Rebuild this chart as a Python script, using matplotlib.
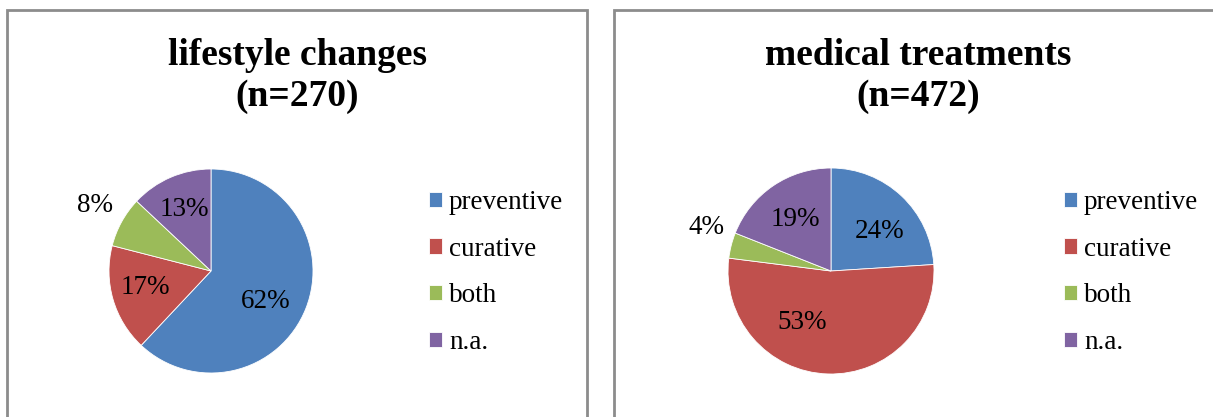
import matplotlib.pyplot as plt
from matplotlib.patches import Rectangle

plt.rcParams['font.family'] = ['Liberation Serif', 'DejaVu Serif']

categories = ['preventive', 'curative', 'both', 'n.a.']
colors = ['#4F81BD', '#C0504D', '#9BBB59', '#8064A2']

lifestyle_title = 'lifestyle changes\n(n=270)'
lifestyle_pct = [62, 17, 8, 13]
# label positions, in units of the pie radius
lifestyle_lbl = [(0.54, -0.30), (-0.64, -0.16), (-1.14, 0.64), (-0.26, 0.60)]

medical_title = 'medical treatments\n(n=472)'
medical_pct = [24, 53, 4, 19]
medical_lbl = [(0.47, 0.38), (-0.28, -0.50), (-1.21, 0.42), (-0.35, 0.50)]

W, H = 1213, 417
fig = plt.figure(figsize=(W / 100, H / 100), dpi=100)

# panel frames
for x0, x1 in [(7, 587), (614, 1230)]:
    fig.patches.append(Rectangle((x0 / W, -0.1), (x1 - x0) / W, (H - 10) / H + 0.1,
                                 transform=fig.transFigure, fill=False,
                                 edgecolor='#8c8c8c', linewidth=2))


def draw(cx, cy, r, title, tx, pct, lbl, lx):
    ax = fig.add_axes([(cx - r) / W, (H - cy - r) / H, 2 * r / W, 2 * r / H])
    wedges, _ = ax.pie(pct, colors=colors, startangle=90, counterclock=False,
                       radius=1, wedgeprops=dict(edgecolor='white', linewidth=0.6))
    ax.set_xlim(-1, 1)
    ax.set_ylim(-1, 1)
    ax.set_aspect('equal')
    ax.axis('off')
    for p, (x, y) in zip(pct, lbl):
        ax.text(x, y, f'{p}%', ha='center', va='center', fontsize=19.5, clip_on=False)
    fig.text(tx / W, 1 - 76 / H, title, ha='center', va='center', fontsize=27,
             fontweight='bold', linespacing=1.2)
    fig.legend(wedges, categories, loc='upper left',
               bbox_to_anchor=(lx / W, 1 - 190 / H), bbox_transform=fig.transFigure,
               frameon=False, fontsize=19.5, handlelength=0.48, handleheight=0.48,
               handletextpad=0.26, labelspacing=0.8, borderpad=0, borderaxespad=0)


draw(211, 271, 102, lifestyle_title, 297, lifestyle_pct, lifestyle_lbl, 429)
draw(831, 271, 103, medical_title, 918, medical_pct, medical_lbl, 1064)

fig.savefig('out.png', dpi=100)
